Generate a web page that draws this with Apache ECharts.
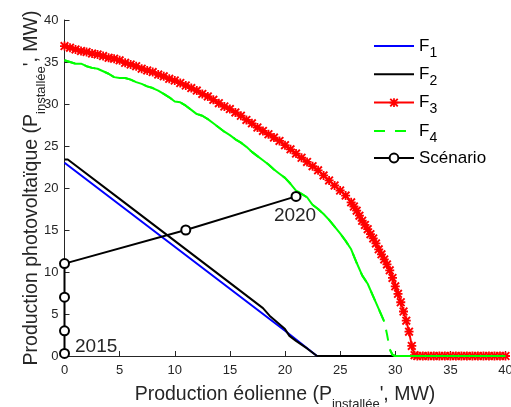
<!DOCTYPE html>
<html>
<head>
<meta charset="utf-8">
<script src="https://cdn.jsdelivr.net/npm/echarts@6/dist/echarts.min.js"></script>
<style>html,body{margin:0;padding:0;background:#fff}#c{width:511px;height:407px}</style>
</head>
<body>
<div id="c"></div>
<script>
// ---- axis ticks ----
const axisMin = 0, axisMax = 40, axisStep = 5;

// ---- series data ([x, y] in MW) ----
const f1Points = [[0,23],[5,18],[10,13],[15,8],[20,3],[22.9,0],[40,0]];
const f2Points = [[0,23.4],[0.3,23.4],[5,18.7],[10,13.7],[15,8.7],[18,5.7],[18.6,4.8],[20,3.2],[20.4,2.4],[21,1.8],[22,0.9],[22.9,0],[40,0]];
const f3Points = [
  [0,36.9],[0.5,36.7],[1,36.5],[1.5,36.3],[2,36.2],[2.5,36.0],[3,35.9],[3.5,35.7],[4,35.5],[4.5,35.4],
  [5,35.2],[5.5,34.9],[6,34.7],[6.5,34.5],[7,34.2],[7.5,34.0],[8,33.8],[8.5,33.5],[9,33.3],[9.5,33.0],
  [10,32.8],[10.5,32.5],[11,32.2],[11.5,31.9],[12,31.6],[12.5,31.2],[13,30.9],[13.5,30.5],[14,30.1],[14.5,29.7],
  [15,29.4],[15.5,29.0],[16,28.6],[16.5,28.1],[17,27.7],[17.5,27.2],[18,26.8],[18.5,26.4],[19,26.0],[19.5,25.6],
  [20,25.1],[20.5,24.6],[21,24.1],[21.5,23.6],[22,23.1],[22.5,22.6],[23,22.1],[23.5,21.5],[24,20.9],[24.5,20.3],
  [25,19.7],[25.5,19.1],[26,18.3],[26.25,17.8],[26.5,17.3],[26.75,16.7],[27,16.1],[27.25,15.6],[27.5,15.1],[27.75,14.5],
  [28,14.0],[28.25,13.4],[28.5,12.7],[28.75,12.1],[29,11.5],[29.25,10.9],[29.5,10.2],[29.75,9.3],[30,8.3],[30.25,7.4],
  [30.5,6.4],[30.75,5.3],[31,4.2],[31.25,2.9],[31.5,1.2],[31.75,0.1],[32,0],[32.5,0],[33,0],[33.5,0],
  [34,0],[34.5,0],[35,0],[35.5,0],[36,0],[36.5,0],[37,0],[37.5,0],[38,0],[38.5,0],[39,0],[39.5,0],[40,0]
];
const f4Points = [
  [0,35.2],[0.5,35.0],[1,34.8],[1.5,34.8],[2,34.5],[2.5,34.3],[3,34.2],[3.5,33.9],[4,33.6],[4.5,33.2],
  [5,33.1],[5.5,33.1],[6,32.9],[6.5,32.6],[7,32.4],[7.5,32.1],[8,31.9],[8.5,31.6],[9,31.2],[9.5,30.8],
  [10,30.3],[10.5,30.2],[11,29.8],[11.5,29.3],[12,28.8],[12.5,28.6],[13,28.2],[13.5,27.7],[14,27.2],[14.5,26.7],
  [15,26.3],[15.5,25.8],[16,25.4],[16.5,24.9],[17,24.3],[17.5,23.8],[18,23.3],[18.5,22.8],[19,22.2],[19.5,21.7],
  [20,21.2],[20.5,20.5],[21,19.7],[21.5,19.3],[22,18.9],[22.5,18.0],[23,17.5],[23.5,16.9],[24,16.2],[24.5,15.4],
  [25,14.6],[25.5,13.7],[26,12.7],[26.5,11.1],[27,9.6],[27.5,8.6],[28,7.1],[28.5,5.6],[29,4.1],[29.25,2.6],
  [29.5,0.8],[29.75,0.15],[30,0],[30.5,0],[31,0],[31.5,0],[32,0],[33,0],[34,0],[35,0],[36,0],[37,0],[38,0],[39,0],[40,0]
];
const f4DashedRange = [29.0, 29.5];   // where the green line shows its dashes
const scenarioPoints = [[0,0.3],[0,3],[0,7],[0,11],[11,15],[21,19]];
const scenarioLabels = ['2015','','','','','2020'];
const legendFNames = ['F1','F2','F3','F4'];
const legendScenarioName = 'Scénario';

// ---- styles ----
const FONT = '"Liberation Sans", Arial, Helvetica, sans-serif';
const TXT = '#262626';
const asterisk = 'path://M4,0L6,0L6,10L4,10Z M0,4L10,4L10,6L0,6Z M0,1.5L1.5,0L5,3.5L8.5,0L10,1.5L6.5,5L10,8.5L8.5,10L5,6.5L1.5,10L0,8.5L3.5,5Z';

const axisNameRich = {
  m: {fontSize: 19.5, fontFamily: FONT, color: TXT, lineHeight: 24},
  s: {fontSize: 13, fontFamily: FONT, color: TXT, lineHeight: 13, padding: [18, 0, 0, 0]}
};

const scenarioData = scenarioPoints.map((p, i) => {
  const item = {value: p};
  if (scenarioLabels[i] === '2015') {
    item.label = {show: true, formatter: scenarioLabels[i], position: 'right', distance: 5, offset: [0, -7]};
  } else if (scenarioLabels[i]) {
    item.label = {show: true, formatter: scenarioLabels[i], position: 'bottom', distance: 4, offset: [-1, 0]};
  }
  return item;
});

const f4SolidData = f4Points.map(p => (p[0] > f4DashedRange[0] && p[0] < f4DashedRange[1]) ? [p[0], '-'] : p);

const hiddenSymbol = {opacity: 0, borderWidth: 0};
const legendBase = {
  orient: 'vertical', left: 373, padding: 0,
  itemWidth: 40, itemHeight: 11, itemGap: 0.3
};

const chart = echarts.init(document.getElementById('c'), null, {renderer: 'canvas'});
chart.setOption({
  animation: false,
  backgroundColor: '#fff',
  grid: {left: 64.5, right: 5.5, top: 20, bottom: 51, outerBoundsMode: 'none', containLabel: false},
  legend: [
    Object.assign({}, legendBase, {
      top: 32,
      data: legendFNames.map(n => n === 'F3' ? {name: n} : {name: n, itemStyle: hiddenSymbol}),
      formatter: name => '{n|F}{s|' + name.slice(1) + '}',
      textStyle: {
        fontFamily: FONT, color: '#000', fontSize: 17,
        rich: {
          n: {fontSize: 17, fontFamily: FONT, color: '#000', lineHeight: 20},
          s: {fontSize: 14, fontFamily: FONT, color: '#000', lineHeight: 14, padding: [14, 0, 0, 0]}
        }
      }
    }),
    Object.assign({}, legendBase, {
      top: 149.5,
      data: [legendScenarioName],
      textStyle: {fontFamily: FONT, color: '#000', fontSize: 17}
    })
  ],
  xAxis: {
    type: 'value', min: axisMin, max: axisMax, interval: axisStep,
    name: '{m|Production éolienne (P}{s|installée}{m|\', MW)}',
    nameLocation: 'middle', nameGap: 27, nameMoveOverlap: false,
    nameTextStyle: {rich: axisNameRich},
    axisLine: {show: true, lineStyle: {color: TXT, width: 1}},
    axisTick: {show: true, inside: true, length: 5, lineStyle: {color: TXT}},
    axisLabel: {color: TXT, fontSize: 13, fontFamily: FONT, margin: 8},
    splitLine: {show: false}
  },
  yAxis: {
    type: 'value', min: axisMin, max: axisMax, interval: axisStep,
    name: '{m|Production photovoltaïque (P}{s|installée}{m|\', MW)}',
    nameLocation: 'middle', nameGap: 20.5, nameMoveOverlap: false,
    nameTextStyle: {rich: axisNameRich},
    axisLine: {show: true, lineStyle: {color: TXT, width: 1}},
    axisTick: {show: true, inside: true, length: 5, lineStyle: {color: TXT}},
    axisLabel: {color: TXT, fontSize: 13, fontFamily: FONT, margin: 6},
    splitLine: {show: false}
  },
  series: [
    {name: 'F1', type: 'line', data: f1Points, symbol: 'none', color: '#0000ff',
     lineStyle: {color: '#0000ff', width: 2}, z: 2},
    {name: 'F2', type: 'line', data: f2Points, symbol: 'none', color: '#000000',
     lineStyle: {color: '#000000', width: 2}, z: 3},
    {name: 'F3', type: 'line', data: f3Points, symbol: asterisk, symbolSize: 9, showSymbol: true,
     color: '#ff0000', itemStyle: {color: '#ff0000'},
     lineStyle: {color: '#ff0000', width: 2}, z: 4},
    {name: 'F4', type: 'line', data: f4Points, symbol: 'none', color: '#00ff00',
     lineStyle: {color: '#00ff00', width: 2, type: [11, 10]}, z: 5},
    {name: 'F4solid', type: 'line', data: f4SolidData, symbol: 'none', color: '#00ff00',
     connectNulls: false, lineStyle: {color: '#00ff00', width: 2}, z: 5},
    {name: 'Scénario', type: 'line', data: scenarioData, symbol: 'emptyCircle', symbolSize: 9,
     color: '#000000', itemStyle: {color: '#000000', borderWidth: 2},
     lineStyle: {color: '#000000', width: 2}, z: 6,
     label: {show: false, color: TXT, fontSize: 19, fontFamily: FONT}}
  ]
});
</script>
</body>
</html>
